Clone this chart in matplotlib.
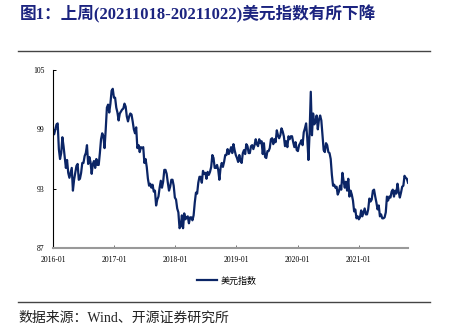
import matplotlib
matplotlib.use("Agg")
import matplotlib.pyplot as plt
import matplotlib.dates as mdates
from matplotlib.lines import Line2D
import pandas as pd

# Weekly (Friday) US dollar index values
dxy_2016 = [98.6, 98.5, 99.0, 99.5, 99.6,
            97.0, 96.0, 96.6, 98.2,
            97.3, 96.2, 95.1, 95.9,
            94.6, 94.1, 94.6, 95.1, 92.8,
            93.9, 94.6, 95.3, 95.5,
            93.9, 94.0, 94.6, 95.6,
            95.6, 96.3, 96.6, 97.4, 95.5,
            96.2, 95.7, 94.5, 95.5,
            95.8, 95.1, 96.0, 95.4, 95.4,
            96.6, 98.0, 98.6, 98.3,
            97.1, 99.0, 101.2, 101.5,
            100.7, 101.6, 102.9, 103.1, 102.2]
dxy_2017 = [102.2, 101.2, 100.7, 99.9,
            100.6, 100.8, 101.0, 101.1,
            101.6, 101.3, 100.3, 99.8, 100.3,
            100.6, 100.5, 99.8, 99.0,
            98.6, 99.2, 97.1, 97.4,
            96.7, 97.2, 97.1, 97.2, 95.6,
            96.0, 95.2, 94.0, 93.3,
            93.5, 93.1, 93.4, 92.7,
            92.8, 91.3, 91.9, 92.2, 93.1,
            93.8, 93.1, 93.7, 94.9,
            94.9, 94.5, 93.6, 92.8,
            93.2, 93.9, 93.9, 93.3, 92.1]
dxy_2018 = [91.9, 91.0, 90.6, 89.0,
            89.2, 90.3, 89.0, 90.5,
            89.9, 90.1, 90.2, 89.5, 90.1,
            90.1, 89.8, 90.3, 91.6,
            92.6, 92.5, 93.6, 94.2,
            94.2, 93.6, 94.8, 94.5, 94.6,
            94.0, 94.7, 94.4, 94.7,
            95.2, 96.4, 96.1, 95.1, 95.1,
            95.4, 94.9, 93.9, 95.1,
            95.6, 95.2, 95.7, 96.4,
            96.4, 97.0, 96.5, 96.8, 97.2,
            96.6, 97.5, 96.9, 96.4]
dxy_2019 = [96.1, 95.7, 96.4, 95.8,
            95.6, 96.6, 96.9, 96.5,
            97.5, 97.3, 96.6, 96.6, 97.3,
            97.4, 97.0, 97.4, 98.0,
            97.5, 97.3, 98.0, 97.6, 97.8,
            96.5, 97.6, 96.2, 96.1,
            96.8, 96.8, 97.1, 98.0,
            98.1, 97.5, 98.0, 97.7, 98.9,
            98.4, 98.1, 98.4, 99.1,
            98.8, 98.3, 97.3, 97.8,
            97.2, 98.3, 98.0, 98.3, 98.3,
            97.7, 97.2, 97.7, 96.9]
dxy_2020 = [96.8, 97.4, 97.6, 97.9, 97.4,
            98.7, 99.1, 99.6, 98.1,
            95.9, 98.7, 102.8, 98.4,
            100.6, 99.5, 99.8, 100.4,
            99.0, 100.0, 100.4, 99.9, 98.4,
            96.9, 96.7, 97.6, 97.4,
            96.7, 96.6, 96.0, 94.4, 93.3,
            93.4, 93.1, 93.2, 92.4,
            92.7, 93.3, 92.9, 94.6,
            93.8, 93.1, 93.7, 92.8, 94.0,
            92.2, 92.8, 92.4, 91.8,
            90.7, 90.9, 90.0, 90.2]
dxy_2021 = [89.9, 90.1, 90.8, 90.2, 90.6,
            91.0, 90.4, 90.4, 90.9,
            92.0, 91.7, 91.9, 92.8,
            92.9, 92.2, 91.6, 90.9, 91.3,
            90.2, 90.4, 90.0, 90.0,
            90.1, 90.6, 92.2, 91.8,
            92.2, 92.1, 92.7, 92.9, 92.2,
            92.8, 92.5, 93.5, 92.7,
            92.1, 92.6, 93.2, 93.3,
            94.3, 94.1, 94.0, 93.6]

series_name = "美元指数"
y_ticks = [87, 93, 99, 105]
x_tick_dates = ["2016-01-01", "2017-01-01", "2018-01-01", "2019-01-01",
                "2020-01-01", "2021-01-01"]

values = dxy_2016 + dxy_2017 + dxy_2018 + dxy_2019 + dxy_2020 + dxy_2021
dates = pd.date_range("2016-01-01", periods=len(values), freq="W-FRI")

W, H = 449, 334
fig = plt.figure(figsize=(W / 100, H / 100), dpi=100)
ax = fig.add_axes([53 / W, 1 - 248 / H, (407.7 - 53) / W, (248 - 70) / H])

ax.plot(dates, values, color="#0b2566", lw=1.6, label=series_name)

ax.set_ylim(87, 105)
ax.set_yticks(y_ticks)
ax.set_xlim(pd.Timestamp("2016-01-01"), pd.Timestamp("2021-10-20"))
ax.set_xticks(pd.to_datetime(x_tick_dates))
ax.xaxis.set_major_formatter(mdates.DateFormatter("%Y-%m"))

for s in ["top", "right"]:
    ax.spines[s].set_visible(False)
ax.spines["left"].set_color("black")
ax.spines["left"].set_linewidth(0.8)
ax.spines["bottom"].set_color("#999999")
ax.spines["bottom"].set_linewidth(1.5)

ax.tick_params(axis="both", direction="in", length=2.5, width=0.7,
               labelsize=5.5, pad=6)
ax.tick_params(axis="x", color="#777777")
for lbl in ax.get_xticklabels() + ax.get_yticklabels():
    lbl.set_family(["Liberation Serif"])

leg = fig.legend(loc="center", bbox_to_anchor=(227 / W, 1 - 281 / H),
                 frameon=False, prop={"family": ["Noto Sans CJK SC"], "size": 6.5},
                 handlelength=2.2, handletextpad=0.4)

fig.text(20 / W, 1 - 14 / H, "图1：上周(20211018-20211022)美元指数有所下降",
         fontsize=12, fontweight="bold", color="#1c2480", va="center",
         family=["Liberation Serif", "Noto Sans CJK SC"])

fig.add_artist(Line2D([18 / W, 430 / W], [1 - 51 / H, 1 - 51 / H],
                      color="#444444", lw=1.0))
fig.add_artist(Line2D([18 / W, 430 / W], [1 - 302 / H, 1 - 302 / H],
                      color="#444444", lw=1.0))

fig.text(18 / W, 1 - 318 / H, "数据来源：Wind、开源证券研究所",
         fontsize=10, color="#222222", va="center",
         family=["Liberation Serif", "Noto Sans CJK SC"])

fig.savefig("out.png", dpi=100)
